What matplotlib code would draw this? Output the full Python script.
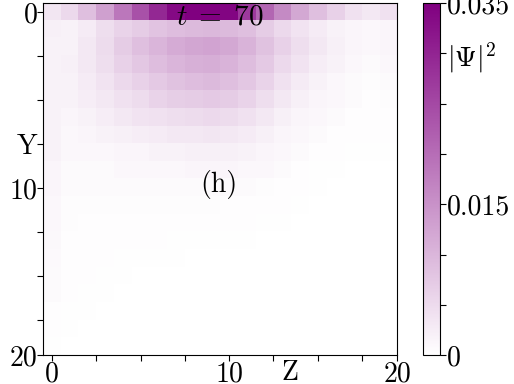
import numpy as np
import matplotlib
matplotlib.use("Agg")
import matplotlib.pyplot as plt
from matplotlib.colors import LinearSegmentedColormap

plt.rcParams['font.family'] = 'serif'
plt.rcParams['font.serif'] = ['cmr10', 'DejaVu Serif']
plt.rcParams['mathtext.fontset'] = 'cm'
plt.rcParams['axes.unicode_minus'] = False

# |Psi|^2 values in units of 1e-3, rows = Y (0 at top), columns = Z
psi2_milli = [
    [3.5, 5.3, 8.8, 13.0, 18.6, 23.8, 29.4, 33.6, 35.0, 35.0, 34.3, 27.0, 21.0, 16.1, 11.9, 8.8, 6.3, 4.2, 3.2, 4.2],
    [2.1, 1.8, 2.8, 4.6, 6.0, 7.0, 8.1, 9.1, 9.5, 9.8, 9.5, 8.8, 7.0, 5.3, 3.9, 2.8, 1.8, 1.4, 1.1, 1.4],
    [1.8, 1.8, 3.2, 4.9, 7.0, 8.8, 10.2, 11.6, 12.3, 12.6, 11.9, 10.5, 8.4, 6.3, 4.6, 3.2, 2.1, 1.4, 1.1, 1.4],
    [1.8, 2.1, 3.2, 4.6, 6.3, 7.7, 9.1, 10.2, 10.9, 11.2, 10.5, 9.1, 7.4, 5.3, 3.9, 2.5, 1.8, 1.1, 0.7, 1.1],
    [1.8, 1.8, 2.8, 3.9, 5.3, 6.3, 7.4, 8.4, 9.1, 9.5, 8.8, 7.7, 6.0, 4.2, 2.8, 1.8, 1.1, 0.7, 0.5, 0.7],
    [1.8, 1.8, 2.5, 3.2, 4.2, 4.9, 6.0, 6.7, 7.0, 7.4, 7.0, 6.0, 4.6, 3.2, 2.1, 1.4, 1.1, 0.7, 0.4, 0.5],
    [1.8, 1.4, 1.8, 2.5, 3.2, 3.9, 4.2, 4.6, 4.9, 5.3, 4.9, 4.2, 3.2, 2.1, 1.4, 1.1, 0.7, 0.4, 0.4, 0.4],
    [1.8, 1.1, 1.4, 1.8, 2.1, 2.5, 2.8, 3.2, 3.2, 3.5, 3.2, 2.8, 2.1, 1.4, 1.1, 0.7, 0.4, 0.4, 0.4, 0.4],
    [1.8, 1.1, 1.1, 1.1, 1.4, 1.4, 1.8, 1.8, 2.1, 2.1, 2.1, 1.8, 1.4, 1.1, 0.7, 0.4, 0.4, 0.2, 0.2, 0.2],
    [1.4, 0.7, 0.7, 0.7, 1.1, 1.1, 1.1, 1.1, 1.4, 1.4, 1.4, 1.1, 1.1, 0.7, 0.4, 0.2, 0.2, 0.1, 0.1, 0.1],
    [1.4, 0.7, 0.7, 0.7, 0.7, 0.7, 0.7, 0.7, 0.7, 0.7, 0.7, 0.7, 0.5, 0.4, 0.3, 0.2, 0.1, 0.1, 0.1, 0.1],
    [1.1, 0.5, 0.5, 0.5, 0.5, 0.5, 0.5, 0.5, 0.5, 0.5, 0.4, 0.4, 0.3, 0.3, 0.2, 0.1, 0.1, 0.1, 0.0, 0.0],
    [1.1, 0.5, 0.4, 0.4, 0.4, 0.4, 0.3, 0.3, 0.3, 0.3, 0.3, 0.3, 0.2, 0.2, 0.1, 0.1, 0.1, 0.0, 0.0, 0.0],
    [1.0, 0.4, 0.4, 0.3, 0.3, 0.3, 0.3, 0.2, 0.2, 0.2, 0.2, 0.2, 0.1, 0.1, 0.1, 0.1, 0.0, 0.0, 0.0, 0.0],
    [0.9, 0.4, 0.3, 0.3, 0.2, 0.2, 0.2, 0.2, 0.1, 0.1, 0.1, 0.1, 0.1, 0.1, 0.0, 0.0, 0.0, 0.0, 0.0, 0.0],
    [0.8, 0.3, 0.3, 0.2, 0.2, 0.1, 0.1, 0.1, 0.1, 0.1, 0.1, 0.1, 0.0, 0.0, 0.0, 0.0, 0.0, 0.0, 0.0, 0.0],
    [0.7, 0.3, 0.2, 0.2, 0.1, 0.1, 0.1, 0.1, 0.1, 0.0, 0.0, 0.0, 0.0, 0.0, 0.0, 0.0, 0.0, 0.0, 0.0, 0.0],
    [0.4, 0.2, 0.2, 0.1, 0.1, 0.1, 0.1, 0.0, 0.0, 0.0, 0.0, 0.0, 0.0, 0.0, 0.0, 0.0, 0.0, 0.0, 0.0, 0.0],
    [0.3, 0.2, 0.1, 0.1, 0.1, 0.0, 0.0, 0.0, 0.0, 0.0, 0.0, 0.0, 0.0, 0.0, 0.0, 0.0, 0.0, 0.0, 0.0, 0.0],
    [0.2, 0.1, 0.1, 0.0, 0.0, 0.0, 0.0, 0.0, 0.0, 0.0, 0.0, 0.0, 0.0, 0.0, 0.0, 0.0, 0.0, 0.0, 0.0, 0.0],
]
psi2 = np.array(psi2_milli) * 1e-3

x_ticks = [0, 2.5, 5, 7.5, 10, 12.5, 15, 17.5, 19.5]
x_ticklabels = ['0', '', '', '', '10', '', '', '', '20']
y_ticks = [0, 2.5, 5, 7.5, 10, 12.5, 15, 17.5, 19.5]
y_ticklabels = ['0', '', '', 'Y', '10', '', '', '', '20']
cb_ticks = [0, 0.005, 0.010, 0.015, 0.020, 0.025, 0.030, 0.035]
cb_ticklabels = ['0', '', '', '0.015', '', '', r'$|\Psi|^2$', '0.035']
vmin, vmax = 0.0, 0.035
time_label = r'$t\;=\;70$'
panel_label = '(h)'

cmap = LinearSegmentedColormap.from_list('white_purple', ['white', '#800080'])

fig = plt.figure(figsize=(5.14, 3.84), dpi=100)
ax = fig.add_axes([0.0842, 0.075, 0.6888, 0.917])
cax = fig.add_axes([0.823, 0.075, 0.033, 0.917])

im = ax.imshow(psi2, cmap=cmap, vmin=vmin, vmax=vmax, interpolation='nearest',
               aspect='auto', origin='upper')

ax.set_xticks(x_ticks)
ax.set_xticklabels(x_ticklabels)
ax.set_yticks(y_ticks)
ax.set_yticklabels(y_ticklabels)
ax.tick_params(axis='both', labelsize=20, length=4, width=0.8, pad=0)
ax.text(0.697, -0.012, 'Z', transform=ax.transAxes, fontsize=20,
        ha='center', va='top')

ax.text(9.5, 0.3, time_label, fontsize=21, ha='center', va='center')
ax.text(9.4, 9.8, panel_label, fontsize=20, ha='center', va='center')

cb = fig.colorbar(im, cax=cax)
cb.set_ticks(cb_ticks)
cb.set_ticklabels(cb_ticklabels)
cb.ax.tick_params(labelsize=20, length=4, width=0.8, pad=1)
cb.outline.set_linewidth(0.8)

fig.savefig('out.png', dpi=100)
